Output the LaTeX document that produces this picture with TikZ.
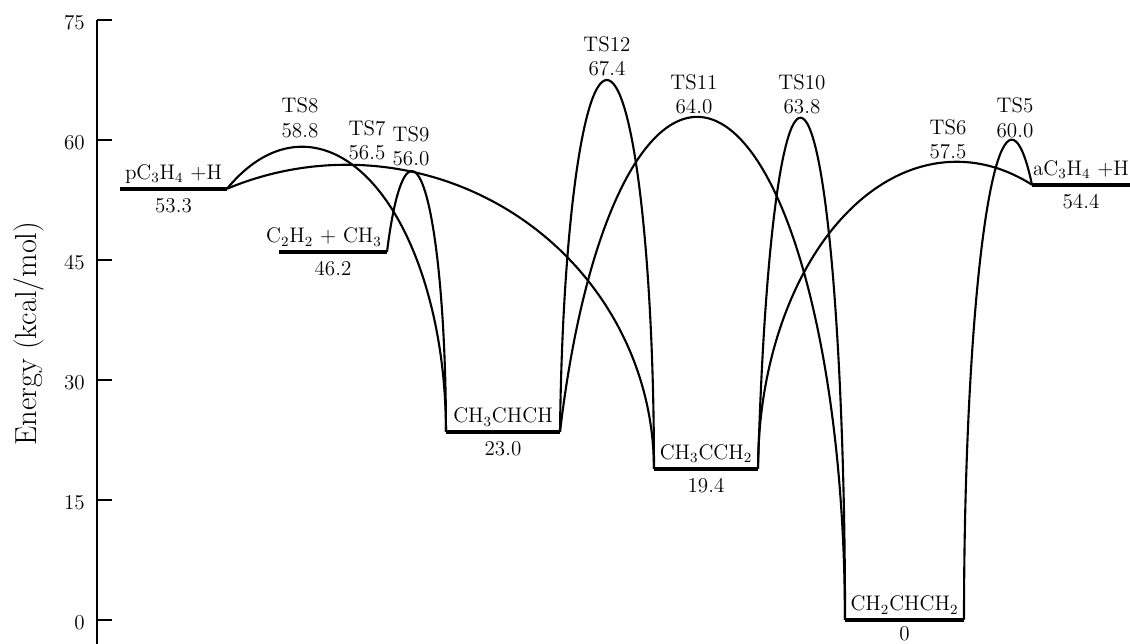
\documentclass[tikz,border=0pt]{standalone}
\usetikzlibrary{positioning}
\tikzset{
  stateline/.style={line width=2.2pt},
  pes/.style={line width=1.2pt},
  axisline/.style={line width=1pt},
  tickline/.style={line width=1.4pt},
  ticklabel/.style={anchor=east, xshift=-0.22cm, yshift=-0.06cm, font=\large, inner sep=0pt},
  species/.style={anchor=base, yshift=0.18cm, font=\large, inner sep=0pt},
  energy/.style={anchor=base, yshift=-0.47cm, font=\large, inner sep=0pt},
  tslabel/.style={align=center, font=\large, inner sep=0pt}
}

\begin{document}
\begin{tikzpicture}[x=0.02cm, y=0.16cm]
\useasboundingbox (0,-3) rectangle (1130,77.5);

% energy axis
\draw[axisline] (97,-3) -- (97,75);
\foreach \e in {0,15,...,75}
  \draw[tickline] (97,\e) node[ticklabel] (tick\e) {\e} -- (112,\e);
\node[rotate=90, font=\LARGE] (ylabel) at (29,35.8) {Energy (kcal/mol)};

% stationary points
\coordinate (pL) at (120,53.9);  \coordinate (pR) at (227,53.9);
\coordinate (cL) at (279,46.0);  \coordinate (cR) at (387,46.0);
\coordinate (vL) at (446,23.5);  \coordinate (vR) at (560,23.5);
\coordinate (iL) at (654,18.9);  \coordinate (iR) at (758,18.9);
\coordinate (aL) at (845,0);     \coordinate (aR) at (964,0);
\coordinate (qL) at (1032,54.4); \coordinate (qR) at (1130,54.4);

\draw[stateline] (pL) -- node[species] (pname) {pC$_3$H$_4$ +H} node[energy] (pval) {53.3} (pR);
\draw[stateline] (cL) -- node[species, xshift=-0.18cm] (cname) {C$_2$H$_2$ + CH$_3$} node[energy] (cval) {46.2} (cR);
\draw[stateline] (vL) -- node[species] (vname) {CH$_3$CHCH} node[energy] (vval) {23.0} (vR);
\draw[stateline] (iL) -- node[species] (iname) {CH$_3$CCH$_2$} node[energy] (ival) {19.4} (iR);
\draw[stateline] (aL) -- node[species] (aname) {CH$_2$CHCH$_2$} node[energy, yshift=0.06cm] (aval) {0} (aR);
\draw[stateline] (qL) -- node[species] (qname) {aC$_3$H$_4$ +H} node[energy] (qval) {54.4} (qR);

% reaction paths through the transition states
\draw[pes] (pR) arc[start angle=121.50, end angle=0, x radius=2.877cm, y radius=5.70cm];  % TS8
\draw[pes] (pR) arc[start angle=112.92, end angle=0, x radius=6.146cm, y radius=6.08cm];  % TS7
\draw[pes] (cR) arc[start angle=136.40, end angle=0, x radius=0.684cm, y radius=5.22cm];  % TS9
\draw[pes] (vR) arc[start angle=174.54, end angle=0, x radius=0.942cm, y radius=7.78cm];  % TS12
\draw[pes] (vR) arc[start angle=158.05, end angle=0, x radius=2.957cm, y radius=10.06cm]; % TS11
\draw[pes] (iR) arc[start angle=162.49, end angle=0, x radius=0.891cm, y radius=10.04cm]; % TS10
\draw[pes] (qL) arc[start angle=67.68, end angle=180, x radius=3.972cm, y radius=6.14cm]; % TS6
\draw[pes] (qL) arc[start angle=64.99, end angle=180, x radius=0.956cm, y radius=9.60cm]; % TS5

% barrier labels
\node[tslabel] (ts8)  at (300,62.80)  {TS8\\58.8};
\node[tslabel] (ts7)  at (367,59.94)  {TS7\\56.5};
\node[tslabel] (ts9)  at (411,59.19)  {TS9\\56.0};
\node[tslabel] (ts12) at (607,70.44)  {TS12\\67.4};
\node[tslabel] (ts11) at (694,65.69)  {TS11\\64.0};
\node[tslabel] (ts10) at (802,65.69)  {TS10\\63.8};
\node[tslabel] (ts6)  at (948,60.06)  {TS6\\57.5};
\node[tslabel] (ts5)  at (1015,62.75) {TS5\\60.0};
\end{tikzpicture}
\end{document}
